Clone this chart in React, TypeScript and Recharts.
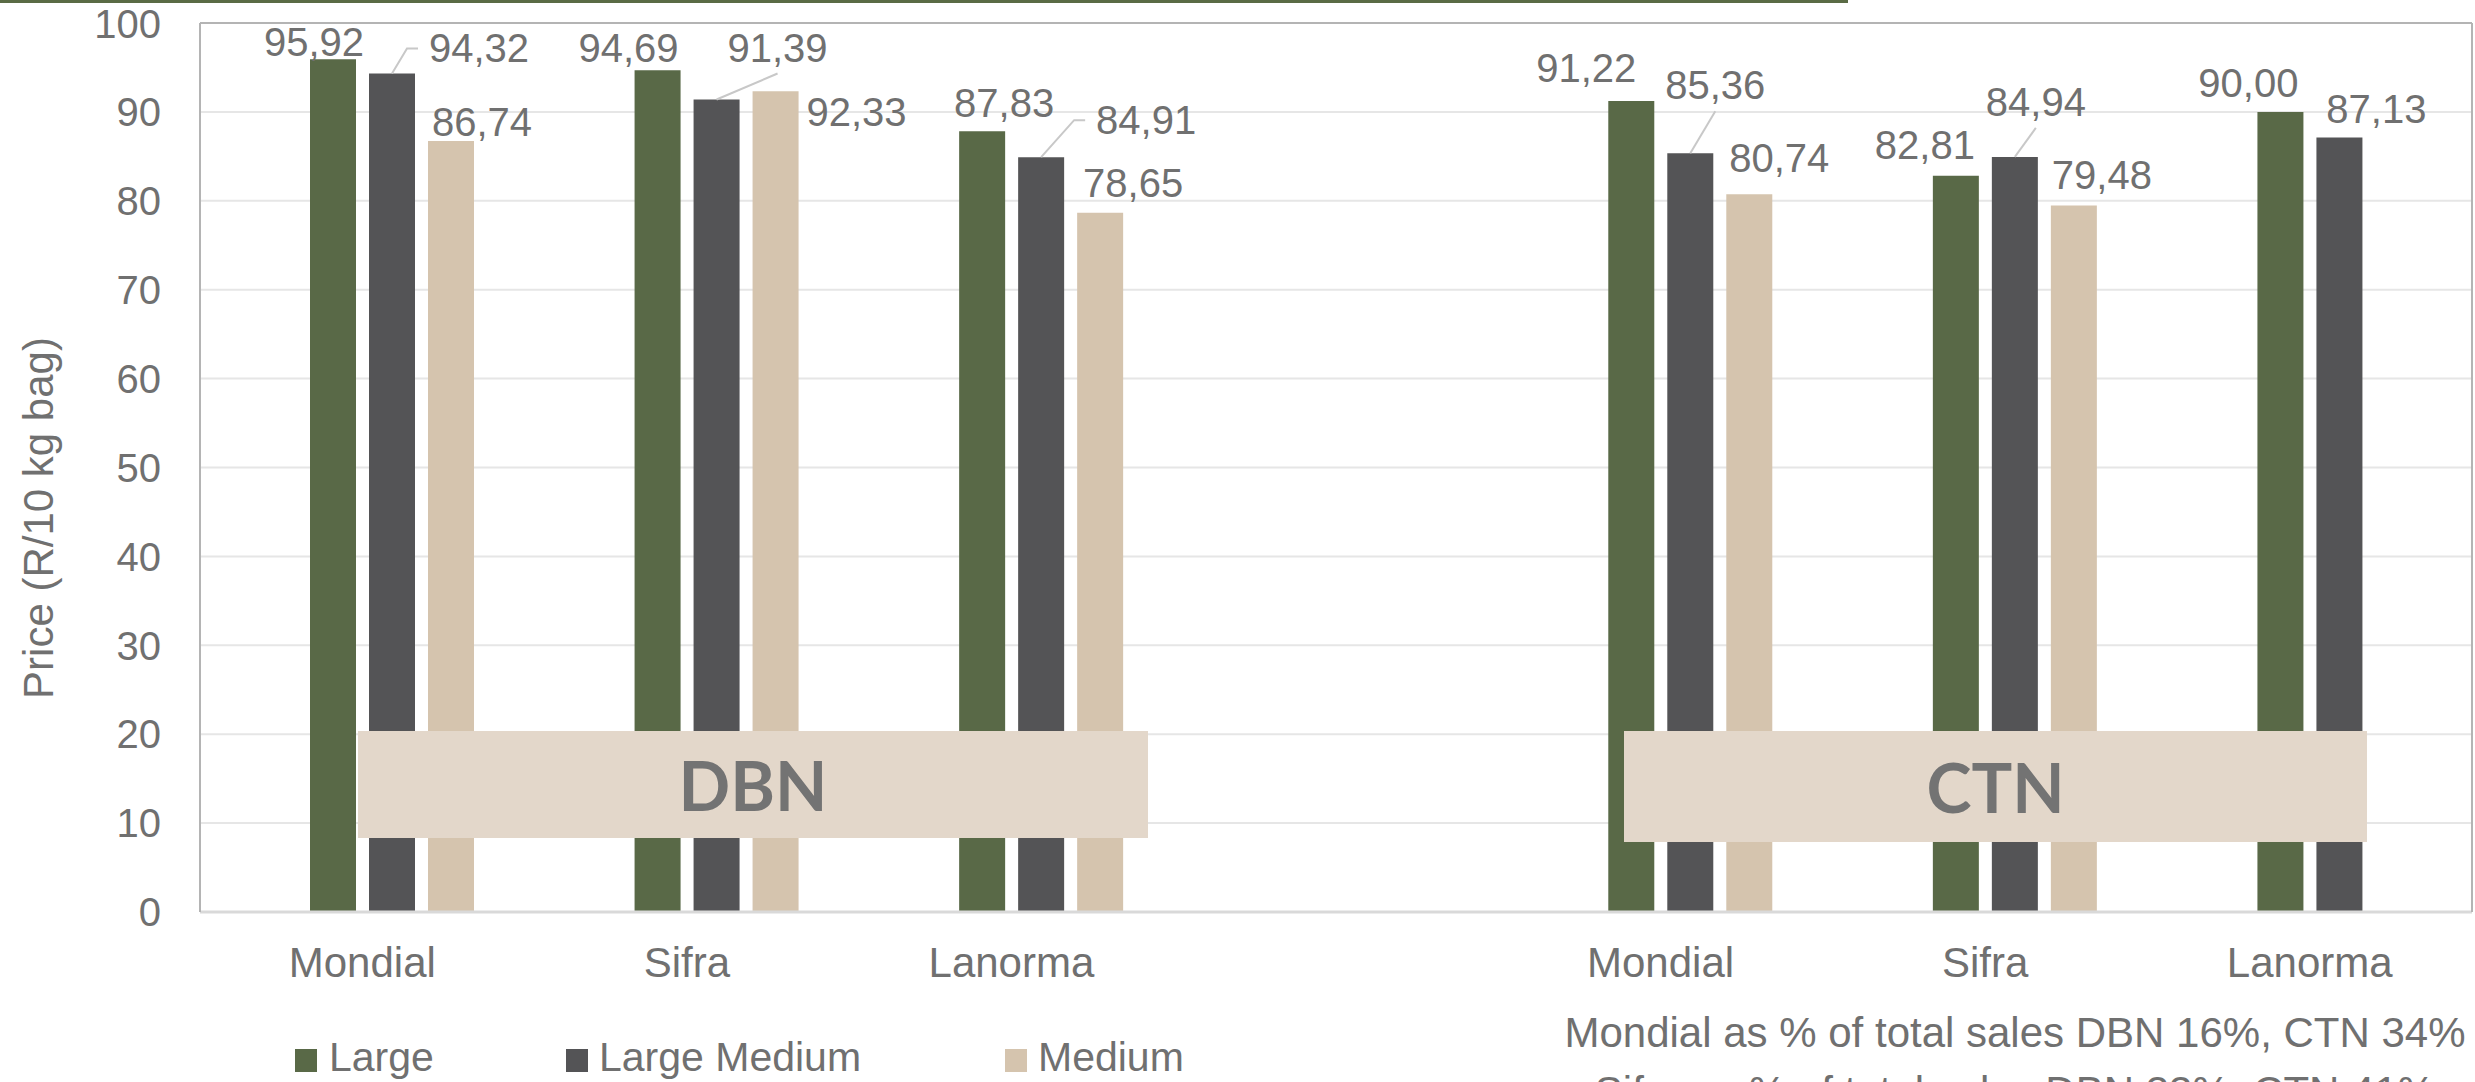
import React from 'react'
import { BarChart, Bar, XAxis, YAxis, CartesianGrid, ReferenceLine, LabelList } from 'recharts'

// values (R per 10 kg bag); the empty slot separates DBN from CTN
const categories = ['Mondial', 'Sifra', 'Lanorma', '', 'Mondial', 'Sifra', 'Lanorma']
const large = [95.92, 94.69, 87.83, null, 91.22, 82.81, 90.0]
const largeMedium = [94.32, 91.39, 84.91, null, 85.36, 84.94, 87.13]
const medium = [86.74, 92.33, 78.65, null, 80.74, 79.48, null]
const yTicks = [0, 10, 20, 30, 40, 50, 60, 70, 80, 90, 100]
const seriesNames = ['Large', 'Large Medium', 'Medium']
const markets = ['DBN', 'CTN']
const notes = [
  'Mondial as % of total sales DBN 16%, CTN 34%',
  'Sifra as % of total sales DBN 33%, CTN 41%',
]

const colors = ['#596947', '#545456', '#d5c4ae']
const textGrey = '#707070'
const font = '"Liberation Sans", Arial, sans-serif'

// label placement tweaks (dx from bar centre, dy of baseline from bar top, leader style)
const nudgeLarge: any[] = [[-19, -3], [-29, -8], [22, -14], [0, 0], [-45, -19], [-31, -17], [-32, -15]]
const nudgeLargeMedium: any[] = [[87, -11, 'side'], [61, -38, 'bottom'], [105, -23, 'side'], [0, 0], [25, -54, 'bottom'], [21, -41, 'bottom'], [37, -14]]
const nudgeMedium: any[] = [[31, -5], [81, 35], [33, -16], [0, 0], [30, -22], [28, -16], [0, 0]]

const data = categories.map((c, i) => ({
  id: i,
  name: c,
  spacer: null,
  large: large[i],
  largeMedium: largeMedium[i],
  medium: medium[i],
}))

// LabelList skips null points, so find the category by value (unique within a series)
const makeLabel = (series: (number | null)[], nudges: any[]) => (props: any) => {
  const { x, y, width, value } = props
  if (value == null || value === '') return null
  const v = Number(value)
  const idx = series.findIndex((s) => s != null && Math.abs(s - v) < 1e-6)
  const [dx, dy, leader] = nudges[idx] || [0, -8]
  const bx = Number(x) + Number(width) / 2
  const top = Number(y)
  const cx = bx + dx
  const by = top + dy
  const text = v.toFixed(2).replace('.', ',')
  let line = null
  if (leader === 'side') {
    const left = cx - 53
    line = (
      <polyline
        points={`${bx},${top} ${left - 19},${by - 14} ${left - 8},${by - 14}`}
        fill="none"
        stroke="#c8c8c8"
        strokeWidth={2}
      />
    )
  } else if (leader === 'bottom') {
    line = <line x1={bx} y1={top} x2={cx} y2={by + 12} stroke="#c8c8c8" strokeWidth={2} />
  }
  return (
    <g>
      {line}
      <text x={cx} y={by} textAnchor="middle" fill={textGrey} fontSize={40} fontFamily={font}>
        {text}
      </text>
    </g>
  )
}

const legendItems = [
  { square: 295, text: 329 },
  { square: 566, text: 599 },
  { square: 1005, text: 1038 },
]

const boxes = [
  { left: 358, width: 790, top: 731, height: 107 },
  { left: 1624, width: 743, top: 731, height: 111 },
]

export default function App() {
  return (
    <div
      style={{
        position: 'absolute',
        left: 0,
        top: 0,
        width: 2475,
        height: 1082,
        overflow: 'hidden',
        background: '#fff',
        fontFamily: font,
      }}
    >
      <div style={{ position: 'absolute', left: 0, top: 0, width: 1848, height: 3, background: '#5a6b45' }} />

      <BarChart
        width={2475}
        height={1082}
        data={data}
        margin={{ top: 23, right: 0, left: 0, bottom: 0 }}
        barSize={46}
        barGap={13}
      >
        <CartesianGrid vertical={false} stroke="#e6e6e6" strokeWidth={2} />
        <XAxis
          dataKey="id"
          height={170}
          tickFormatter={(i: any) => categories[i]}
          tick={{ fill: textGrey, fontSize: 42, fontFamily: font }}
          tickLine={false}
          tickSize={0}
          tickMargin={35}
          axisLine={{ stroke: '#d9d9d9', strokeWidth: 3 }}
          interval={0}
        />
        <YAxis
          width={200}
          domain={[0, 100]}
          ticks={yTicks}
          tick={{ fill: textGrey, fontSize: 40, fontFamily: font }}
          tickLine={false}
          tickSize={0}
          tickMargin={39}
          axisLine={{ stroke: '#b4b4b4', strokeWidth: 2 }}
        />
        <YAxis
          yAxisId="right"
          orientation="right"
          width={3}
          domain={[0, 100]}
          tick={false}
          tickLine={false}
          axisLine={{ stroke: '#b4b4b4', strokeWidth: 2 }}
        />
        <ReferenceLine y={100} stroke="#b4b4b4" strokeWidth={2} />
        <Bar dataKey="spacer" fill="transparent" isAnimationActive={false} />
        <Bar dataKey="large" name={seriesNames[0]} fill={colors[0]} isAnimationActive={false}>
          <LabelList dataKey="large" content={makeLabel(large, nudgeLarge)} />
        </Bar>
        <Bar dataKey="largeMedium" name={seriesNames[1]} fill={colors[1]} isAnimationActive={false}>
          <LabelList dataKey="largeMedium" content={makeLabel(largeMedium, nudgeLargeMedium)} />
        </Bar>
        <Bar dataKey="medium" name={seriesNames[2]} fill={colors[2]} isAnimationActive={false}>
          <LabelList dataKey="medium" content={makeLabel(medium, nudgeMedium)} />
        </Bar>
      </BarChart>

      {/* market boxes drawn over the bars */}
      {boxes.map((b, i) => (
        <div
          key={markets[i]}
          style={{
            position: 'absolute',
            left: b.left,
            top: b.top,
            width: b.width,
            height: b.height,
            background: '#e3d7ca',
            display: 'flex',
            alignItems: 'center',
            justifyContent: 'center',
            color: '#737373',
            fontWeight: 700,
            fontSize: 68,
            fontFamily: '"Liberation Sans Narrow", Lato, sans-serif',
          }}
        >
          {markets[i]}
        </div>
      ))}

      {/* y axis title */}
      <div
        style={{
          position: 'absolute',
          left: 39,
          top: 518,
          transform: 'translate(-50%, -50%) rotate(-90deg)',
          whiteSpace: 'nowrap',
          color: textGrey,
          fontSize: 42,
          lineHeight: '42px',
        }}
      >
        Price (R/10 kg bag)
      </div>

      {/* legend */}
      {legendItems.map((l, i) => (
        <React.Fragment key={seriesNames[i]}>
          <div style={{ position: 'absolute', left: l.square, top: 1049, width: 22, height: 23, background: colors[i] }} />
          <div
            style={{
              position: 'absolute',
              left: l.text,
              top: 1037,
              fontSize: 41,
              lineHeight: '41px',
              color: textGrey,
              whiteSpace: 'nowrap',
            }}
          >
            {seriesNames[i]}
          </div>
        </React.Fragment>
      ))}

      {/* notes (the second line is cut by the bottom edge, as in the source) */}
      <div
        style={{
          position: 'absolute',
          left: 1515,
          top: 1003,
          width: 1000,
          textAlign: 'center',
          fontSize: 42,
          lineHeight: '59px',
          color: textGrey,
          whiteSpace: 'nowrap',
        }}
      >
        {notes.map((n) => (
          <div key={n}>{n}</div>
        ))}
      </div>
    </div>
  )
}
